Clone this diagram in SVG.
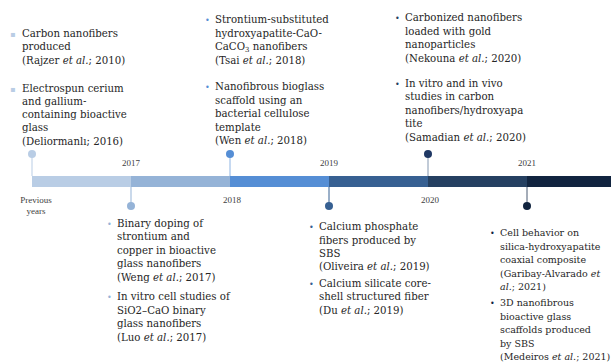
<svg xmlns="http://www.w3.org/2000/svg" width="611" height="363" viewBox="0 0 611 363">
<style>
.t{font-family:"DejaVu Serif","Liberation Serif",serif;font-size:10.2px;fill:#262626}
.s{font-size:9.5px}
.y{font-family:"Liberation Serif","Times New Roman",serif;font-size:9px;fill:#404040;text-anchor:middle}
.i{font-style:italic}
.b{font-family:"DejaVu Sans",sans-serif;font-size:8px}
</style>
<rect width="611" height="363" fill="#ffffff"/>
<g id="timeline">
<rect x="32" y="176" width="99" height="11" fill="#b9cde5"/>
<rect x="131" y="176" width="99" height="11" fill="#95b3d7"/>
<rect x="230" y="176" width="99" height="11" fill="#558ed5"/>
<rect x="329" y="176" width="99" height="11" fill="#376092"/>
<rect x="428" y="176" width="99" height="11" fill="#254061"/>
<rect x="527" y="176" width="84" height="11" fill="#11243f"/>
</g>
<g id="connectors" stroke-width="1">
<line x1="32" y1="154" x2="32" y2="176" stroke="#b9cde5"/>
<line x1="230" y1="154" x2="230" y2="176" stroke="#8eb4e3"/>
<line x1="428" y1="154" x2="428" y2="176" stroke="#8497b0"/>
<line x1="131" y1="187" x2="131" y2="206" stroke="#95b3d7"/>
<line x1="329" y1="187" x2="329" y2="206" stroke="#376092"/>
<line x1="527" y1="187" x2="527" y2="206" stroke="#4a5a73"/>
</g>
<g id="years">
<text class="y" x="131" y="166">2017</text>
<text class="y" x="329" y="166">2019</text>
<text class="y" x="527" y="166">2021</text>
<text class="y" x="36" y="203">Previous</text>
<text class="y" x="36" y="214">years</text>
<text class="y" x="232" y="203">2018</text>
<text class="y" x="430" y="203">2020</text>
</g>
<g id="node-previous">
<circle cx="32" cy="154" r="4" fill="#b9cde5"/>
<text class="b" x="10" y="37" fill="#b9cde5">▪</text>
<text class="t" x="22" y="37">Carbon nanofibers</text>
<text class="t" x="22" y="50">produced</text>
<text class="t" x="22" y="64">(Rajzer <tspan class="i">et al.</tspan>; 2010)</text>
<text class="b" x="10" y="92" fill="#b9cde5">▪</text>
<text class="t" x="22" y="92">Electrospun cerium</text>
<text class="t" x="22" y="105">and gallium-</text>
<text class="t" x="22" y="118">containing bioactive</text>
<text class="t" x="22" y="131">glass</text>
<text class="t" x="22" y="145">(Deliormanlı; 2016)</text>
</g>
<g id="node-2017">
<circle cx="131" cy="206" r="4" fill="#95b3d7"/>
<text class="b" x="107" y="227" fill="#95b3d7">•</text>
<text class="t" x="117" y="227">Binary doping of</text>
<text class="t" x="117" y="240">strontium and</text>
<text class="t" x="117" y="254">copper in bioactive</text>
<text class="t" x="117" y="267">glass nanofibers</text>
<text class="t" x="117" y="281">(Weng <tspan class="i">et al.</tspan>; 2017)</text>
<text class="b" x="107" y="300" fill="#95b3d7">•</text>
<text class="t" x="117" y="300">In vitro cell studies of</text>
<text class="t" x="117" y="314">SiO2–CaO binary</text>
<text class="t" x="117" y="327">glass nanofibers</text>
<text class="t" x="117" y="341">(Luo <tspan class="i">et al.</tspan>; 2017)</text>
</g>
<g id="node-2018">
<circle cx="230" cy="154" r="4" fill="#558ed5"/>
<text class="b" x="205" y="23" fill="#558ed5">•</text>
<text class="t" x="215" y="23">Strontium-substituted</text>
<text class="t" x="215" y="37">hydroxyapatite-CaO-</text>
<text class="t" x="215" y="50">CaCO<tspan font-size="7" dy="2">3</tspan><tspan dy="-2"> nanofibers</tspan></text>
<text class="t" x="215" y="64">(Tsai <tspan class="i">et al.</tspan>; 2018)</text>
<text class="b" x="205" y="90" fill="#558ed5">•</text>
<text class="t" x="215" y="90">Nanofibrous bioglass</text>
<text class="t" x="215" y="104">scaffold using an</text>
<text class="t" x="215" y="117">bacterial cellulose</text>
<text class="t" x="215" y="131">template</text>
<text class="t" x="215" y="144">(Wen <tspan class="i">et al.</tspan>; 2018)</text>
</g>
<g id="node-2019">
<circle cx="329" cy="206" r="4" fill="#376092"/>
<text class="b" x="309" y="230" fill="#376092">•</text>
<text class="t" x="319" y="230">Calcium phosphate</text>
<text class="t" x="319" y="244">fibers produced by</text>
<text class="t" x="319" y="257">SBS</text>
<text class="t" x="319" y="270">(Oliveira <tspan class="i">et al.</tspan>; 2019)</text>
<text class="b" x="309" y="287" fill="#376092">•</text>
<text class="t" x="319" y="287">Calcium silicate core-</text>
<text class="t" x="319" y="300">shell structured fiber</text>
<text class="t" x="319" y="314">(Du <tspan class="i">et al.</tspan>; 2019)</text>
</g>
<g id="node-2020">
<circle cx="428" cy="154" r="4" fill="#1f3864"/>
<text class="b" x="395" y="21" fill="#254061">•</text>
<text class="t" x="405" y="21">Carbonized nanofibers</text>
<text class="t" x="405" y="35">loaded with gold</text>
<text class="t" x="405" y="48">nanoparticles</text>
<text class="t" x="405" y="62">(Nekouna  <tspan class="i">et al.</tspan>; 2020)</text>
<text class="b" x="395" y="87" fill="#254061">•</text>
<text class="t" x="405" y="87">In vitro and in vivo</text>
<text class="t" x="405" y="100">studies in carbon</text>
<text class="t" x="405" y="114">nanofibers/hydroxyapa</text>
<text class="t" x="405" y="127">tite</text>
<text class="t" x="405" y="141">(Samadian <tspan class="i">et al.</tspan>; 2020)</text>
</g>
<g id="node-2021">
<circle cx="527" cy="206" r="4" fill="#11243f"/>
<text class="b" x="490" y="236" fill="#11243f">•</text>
<text class="t s" x="500" y="236">Cell behavior on</text>
<text class="t s" x="500" y="250">silica-hydroxyapatite</text>
<text class="t s" x="500" y="263">coaxial composite</text>
<text class="t s" x="500" y="277">(Garibay-Alvarado <tspan class="i">et</tspan></text>
<text class="t s" x="500" y="290"><tspan class="i">al.</tspan>; 2021)</text>
<text class="b" x="490" y="306" fill="#11243f">•</text>
<text class="t s" x="500" y="306">3D nanofibrous</text>
<text class="t s" x="500" y="320">bioactive glass</text>
<text class="t s" x="500" y="333">scaffolds produced</text>
<text class="t s" x="500" y="347">by SBS</text>
<text class="t s" x="500" y="360">(Medeiros <tspan class="i">et al.</tspan>; 2021)</text>
</g>
</svg>
